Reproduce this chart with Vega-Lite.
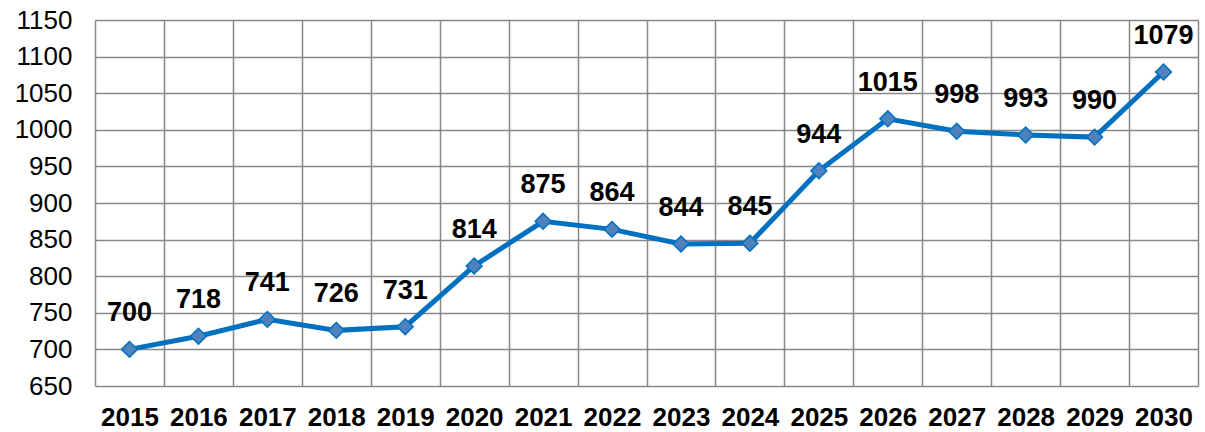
{
  "$schema": "https://vega.github.io/schema/vega-lite/v6.json",
  "width": 1103,
  "height": 366,
  "autosize": {"type": "none"},
  "padding": {"left": 95, "top": 20, "right": 7, "bottom": 46},
  "background": "white",
  "config": {"view": {"stroke": null}},
  "data": {"values": [
    {"year": "2015", "value": 700},
    {"year": "2016", "value": 718},
    {"year": "2017", "value": 741},
    {"year": "2018", "value": 726},
    {"year": "2019", "value": 731},
    {"year": "2020", "value": 814},
    {"year": "2021", "value": 875},
    {"year": "2022", "value": 864},
    {"year": "2023", "value": 844},
    {"year": "2024", "value": 845},
    {"year": "2025", "value": 944},
    {"year": "2026", "value": 1015},
    {"year": "2027", "value": 998},
    {"year": "2028", "value": 993},
    {"year": "2029", "value": 990},
    {"year": "2030", "value": 1079}
  ]},
  "encoding": {
    "x": {
      "field": "year", "type": "ordinal",
      "scale": {"type": "band", "paddingInner": 0, "paddingOuter": 0},
      "axis": {
        "title": null, "labelAngle": 0, "tickBand": "extent", "grid": true,
        "gridColor": "#888888", "gridWidth": 1.5, "gridOpacity": 1,
        "ticks": false, "domain": false,
        "labelFont": "Liberation Sans", "labelFontSize": 26, "labelFontWeight": "bold",
        "labelColor": "black", "labelPadding": 18
      }
    },
    "y": {
      "field": "value", "type": "quantitative",
      "scale": {"domain": [650, 1150], "nice": false, "zero": false},
      "axis": {
        "title": null, "values": [650, 700, 750, 800, 850, 900, 950, 1000, 1050, 1100, 1150],
        "format": "d",
        "grid": true, "gridColor": "#888888", "gridWidth": 1.5, "gridOpacity": 1,
        "ticks": false, "domain": false,
        "labelFont": "Liberation Sans", "labelFontSize": 26, "labelColor": "black",
        "labelPadding": 23
      }
    }
  },
  "layer": [
    {
      "mark": {"type": "line", "color": "#0070c0", "strokeWidth": 5},
      "encoding": {}
    },
    {
      "mark": {"type": "point", "shape": "diamond", "size": 250, "filled": true, "fill": "#4f81bd", "stroke": "#0070c0", "strokeWidth": 1.5, "opacity": 1}
    },
    {
      "mark": {"type": "text", "dy": -36, "baseline": "middle", "font": "Liberation Sans", "fontSize": 27, "fontWeight": "bold", "color": "black"},
      "encoding": {"text": {"field": "value", "type": "quantitative", "format": "d"}}
    }
  ]
}
